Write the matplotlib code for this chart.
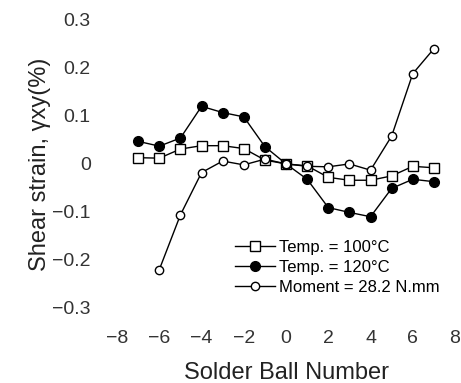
import numpy as np
import matplotlib
matplotlib.use('Agg')
import matplotlib.pyplot as plt

plt.rcParams['font.family'] = ['Liberation Sans', 'DejaVu Sans']

# ball numbers
balls = [-7, -6, -5, -4, -3, -2, -1, 0, 1, 2, 3, 4, 5, 6, 7]
# Temp = 100C (open squares)
temp100 = [0.013, 0.012, 0.031, 0.038, 0.038, 0.032, 0.008, 0.0,
           -0.004, -0.028, -0.034, -0.034, -0.025, -0.005, -0.008]
# Temp = 120C (filled circles)
temp120 = [0.047, 0.037, 0.054, 0.12, 0.107, 0.098, 0.036, 0.0,
           -0.032, -0.091, -0.101, -0.11, -0.051, -0.032, -0.037]
# Moment = 28.2 N.mm (open circles), starts at ball -6
moment_x = [-6, -5, -4, -3, -2, -1, 0, 1, 2, 3, 4, 5, 6, 7]
moment = [-0.22, -0.106, -0.018, 0.006, -0.002, 0.01, 0.0,
          -0.005, -0.006, 0.0, -0.013, 0.058, 0.188, 0.24]

xticks = [-8, -6, -4, -2, 0, 2, 4, 6, 8]
yticks = [-0.3, -0.2, -0.1, 0, 0.1, 0.2, 0.3]
ylabels = ['\u22120.3', '\u22120.2', '\u22120.1', '0', '0.1', '0.2', '0.3']
xlabels = ['\u22128', '\u22126', '\u22124', '\u22122', '0', '2', '4', '6', '8']

fig = plt.figure(figsize=(4.61, 3.83), dpi=100)
ax = fig.add_axes([0.254, 0.196, 0.733, 0.752])

ax.plot(balls, temp100, '-s', color='black', lw=1.0, ms=7, mfc='white', mec='black', mew=1.0,
        label='Temp. = 100\u00b0C')
ax.plot(balls, temp120, '-o', color='black', lw=1.0, ms=7, mfc='black', mec='black',
        label='Temp. = 120\u00b0C')
ax.plot(moment_x, moment, '-o', color='black', lw=1.0, ms=6, mfc='white', mec='black', mew=1.0,
        label='Moment = 28.2 N.mm')

ax.set_xlim(-8, 8)
ax.set_ylim(-0.3, 0.3)
ax.set_xticks(xticks)
ax.set_xticklabels(xlabels)
ax.set_yticks(yticks)
ax.set_yticklabels(ylabels)
for s in ax.spines.values():
    s.set_visible(False)
ax.tick_params(axis='both', length=0, labelsize=14, colors='#333333')
ax.tick_params(axis='y', pad=19)
ax.tick_params(axis='x', pad=16)

ax.set_xlabel('Solder Ball Number', fontsize=17, color='#222222', labelpad=11)
ax.set_ylabel('Shear strain, \u03b3xy(%)', fontsize=17, color='#222222', labelpad=1)

ax.legend(loc='center', bbox_to_anchor=(0.652, 0.142), frameon=False, fontsize=12,
          handlelength=2.4, handletextpad=0.2, labelspacing=0.3, borderpad=0.2)

fig.savefig('out.png', dpi=100)
